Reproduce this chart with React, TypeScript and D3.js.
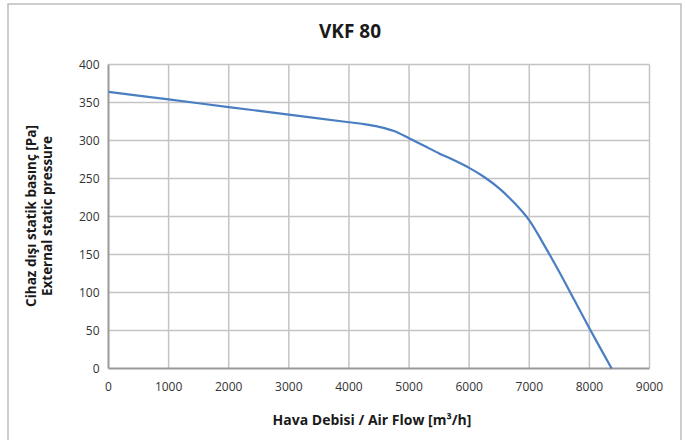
import React, { useEffect, useRef } from "react";
import * as d3 from "d3";

// curve (air flow m3/h -> pressure Pa)
const flow = [0, 1000, 2000, 3000, 4000, 4250, 4500, 4750, 5000, 5250, 5500, 5750, 6000, 6250, 6500, 6750, 7000, 7250, 7500, 7750, 8000, 8370];
const pressure = [364, 354, 344, 334, 324, 321.5, 318, 312.5, 303, 293, 283, 274, 264, 252, 237, 218, 195, 162, 127, 90, 53, 0];

const xTicks = [0, 1000, 2000, 3000, 4000, 5000, 6000, 7000, 8000, 9000];
const yTicks = [0, 50, 100, 150, 200, 250, 300, 350, 400];

const title = "VKF 80";
const xLabel = "Hava Debisi / Air Flow [m³/h]";
const yLabel1 = "Cihaz dışı statik basınç [Pa]";
const yLabel2 = "External static pressure";

const W = 685;
const H = 440;
const FONT = "'Open Sans', Lato, sans-serif";

export default function App() {
  const svgRef = useRef<SVGSVGElement>(null);

  useEffect(() => {
    const svg = d3.select(svgRef.current);
    svg.selectAll("*").remove();

    const margin = { left: 108.5, right: 35.5, top: 64.5, bottom: 71.5 };
    const innerW = W - margin.left - margin.right;
    const innerH = H - margin.top - margin.bottom;

    // outer frame
    svg
      .append("rect")
      .attr("x", 8)
      .attr("y", 4)
      .attr("width", 673)
      .attr("height", 450)
      .attr("fill", "#fff")
      .attr("stroke", "#bdbdbd")
      .attr("stroke-width", 1.5);

    svg
      .append("text")
      .attr("x", 350)
      .attr("y", 38)
      .attr("text-anchor", "middle")
      .attr("font-family", FONT)
      .attr("font-weight", 700)
      .attr("font-size", 19)
      .attr("fill", "#1a1a1a")
      .text(title);

    const chart = svg
      .append("g")
      .attr("transform", `translate(${margin.left}, ${margin.top})`);

    const x = d3.scaleLinear().domain([0, 9000]).range([0, innerW]);
    const y = d3.scaleLinear().domain([0, 400]).range([innerH, 0]);

    // grid lines
    chart
      .append("g")
      .selectAll("line")
      .data(xTicks.slice(1))
      .enter()
      .append("line")
      .attr("x1", (d) => x(d))
      .attr("x2", (d) => x(d))
      .attr("y1", 0)
      .attr("y2", innerH)
      .attr("stroke", "#c4c4c4")
      .attr("stroke-width", 1.5);

    chart
      .append("g")
      .selectAll("line")
      .data(yTicks.slice(1))
      .enter()
      .append("line")
      .attr("x1", 0)
      .attr("x2", innerW)
      .attr("y1", (d) => y(d))
      .attr("y2", (d) => y(d))
      .attr("stroke", "#c4c4c4")
      .attr("stroke-width", 1.5);

    // axis lines
    chart
      .append("line")
      .attr("x1", 0)
      .attr("x2", 0)
      .attr("y1", 0)
      .attr("y2", innerH)
      .attr("stroke", "#9a9a9a")
      .attr("stroke-width", 2);
    chart
      .append("line")
      .attr("x1", 0)
      .attr("x2", innerW)
      .attr("y1", innerH)
      .attr("y2", innerH)
      .attr("stroke", "#9a9a9a")
      .attr("stroke-width", 2);

    // tick labels
    chart
      .append("g")
      .selectAll("text")
      .data(yTicks)
      .enter()
      .append("text")
      .attr("x", -9)
      .attr("y", (d) => y(d))
      .attr("dy", "0.35em")
      .attr("text-anchor", "end")
      .attr("font-family", FONT)
      .attr("font-size", 12)
      .attr("fill", "#333")
      .text((d) => d);

    chart
      .append("g")
      .selectAll("text")
      .data(xTicks)
      .enter()
      .append("text")
      .attr("x", (d) => x(d))
      .attr("y", innerH + 22)
      .attr("text-anchor", "middle")
      .attr("font-family", FONT)
      .attr("font-size", 12)
      .attr("fill", "#333")
      .text((d) => d);

    // curve
    const pts = flow.map((f, i) => [f, pressure[i]] as [number, number]);
    const line = d3
      .line<[number, number]>()
      .x((d) => x(d[0]))
      .y((d) => y(d[1]))
      .curve(d3.curveCatmullRom.alpha(0.5));
    chart
      .append("path")
      .datum(pts)
      .attr("d", line)
      .attr("fill", "none")
      .attr("stroke", "#4a7ec2")
      .attr("stroke-width", 2.2);

    // axis titles
    svg
      .append("text")
      .attr("x", 372)
      .attr("y", 425)
      .attr("text-anchor", "middle")
      .attr("font-family", FONT)
      .attr("font-weight", 700)
      .attr("font-size", 14)
      .attr("fill", "#1a1a1a")
      .text(xLabel);

    const yt = svg
      .append("text")
      .attr("transform", "translate(36, 216) rotate(-90)")
      .attr("text-anchor", "middle")
      .attr("font-family", FONT)
      .attr("font-weight", 700)
      .attr("font-size", 13.5)
      .attr("fill", "#1a1a1a");
    yt.append("tspan").attr("x", 0).attr("y", 0).text(yLabel1);
    yt.append("tspan").attr("x", 0).attr("y", 16).text(yLabel2);
  }, []);

  return (
    <svg
      ref={svgRef}
      width={W}
      height={H}
      style={{ position: "absolute", left: 0, top: 0, background: "#fff" }}
    />
  );
}
